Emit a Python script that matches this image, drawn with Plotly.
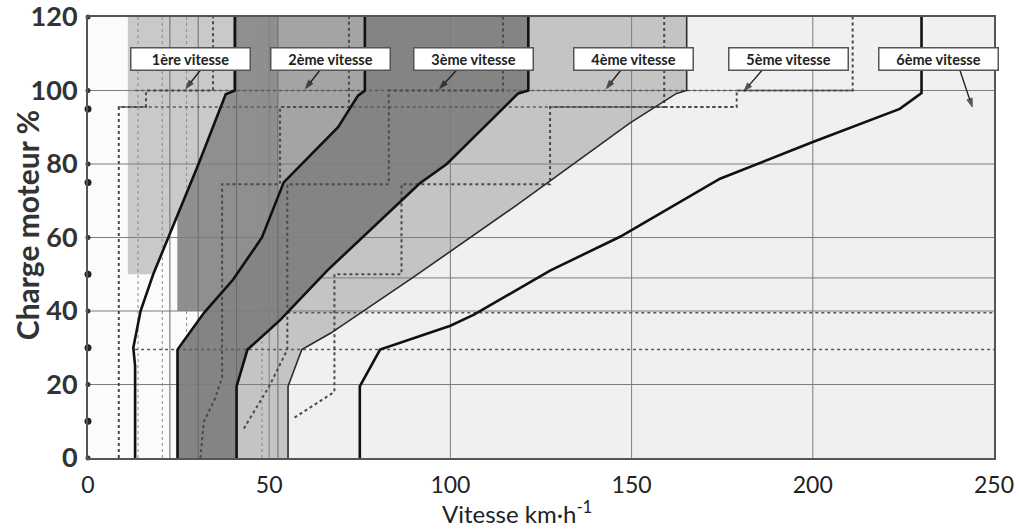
import numpy as np
import plotly.graph_objects as go

# ---------------- data (speed km/h , engine load %) ----------------
x_ticks = [0, 50, 100, 150, 200, 250]
y_ticks = [0, 20, 40, 60, 80, 100, 120]

# solid gear boundary curves
g1_x = [13, 13, 12.5, 14.5, 18, 30.5, 38, 40.5, 40.5]
g1_y = [0, 25, 30, 40, 50, 80, 99, 100, 120]
g2_x = [24.7, 24.7, 32, 40, 48, 54, 69, 74.5, 76.4, 76.4]
g2_y = [0, 29.5, 39.5, 48.5, 60, 75, 90, 98.6, 100, 120]
g3_x = [41, 41, 44, 53, 66, 91.5, 99, 115.5, 118.7, 121.5, 121.5]
g3_y = [0, 19.5, 29.5, 37.5, 51, 74.7, 80, 96, 99.2, 100, 120]
g4_x = [55.2, 55.2, 59, 67, 89.5, 118.3, 149.6, 162.4, 165.2, 165.2]
g4_y = [0, 19.5, 29.5, 34, 49, 68.8, 91.2, 99.2, 100, 120]
g6_x = [75, 75, 80.6, 100, 106.5, 127.5, 146.8, 174.4, 200, 224, 230, 230]
g6_y = [0, 19.5, 29.5, 36, 39, 51, 60.2, 76, 86, 95, 99.3, 120]

# dotted shift curves
d1_x = [8.5, 8.5, 16, 16, 34.5, 34.5]
d1_y = [0, 95.5, 95.5, 100, 100, 120]
d2_x = [31, 32, 35, 37, 37, 53, 53, 72, 72]
d2_y = [0, 10, 16, 22, 74.5, 74.5, 95.5, 95.5, 120]
d3_x = [43, 46, 50, 55, 55, 83, 83, 114.5, 114.5]
d3_y = [8, 13, 19.5, 29.5, 74.5, 74.5, 100, 100, 120]
d4_x = [57, 68, 68, 86.5, 86.5, 127.5, 127.5, 159, 159]
d4_y = [11, 18, 50, 50, 74.5, 74.5, 95.5, 95.5, 120]
d5_x = [159, 179, 179, 211, 211]
d5_y = [95.5, 95.5, 100, 100, 120]

# horizontal dotted reference lines: (y, x_start, x_end)
h_dot_y = [100, 95.5, 29.5, 39.5]
h_dot_x0 = [13, 8.5, 13, 55]
h_dot_x1 = [211, 179, 250, 250]
h_solid_y = [49]
h_solid_x0 = [60]

# vertical strips in the low-speed zone
v_solid_x = [22.6, 30.4, 41, 52.4]
v_dot_x = [13.8, 20.5, 27.2, 48]

# zone limits
zoneA_x0, zoneA_y0 = 11, 50       # 1st gear zone
zoneB_x0, zoneB_y0 = 24.7, 40     # 2nd gear zone
zoneB_split = 52.4

axis_marks_y = [10, 30, 50, 75, 95]

labels = ["1ère vitesse", "2ème vitesse", "3ème vitesse", "4ème vitesse", "5ème vitesse", "6ème vitesse"]
label_x = [28.4, 67, 106.4, 150.5, 193.3, 234.7]
label_y = [108.6] * 6
arrow_from_x = [31, 64, 101.7, 147, 186, 240.6]
arrow_from_y = [105.5] * 6
arrow_to_x = [27, 60, 97, 143, 181, 244]
arrow_to_y = [100.5, 100.5, 100.5, 100.5, 99.8, 95.5]

# ---------------- figure ----------------
fig = go.Figure()

def poly(xs, ys, color):
    fig.add_trace(go.Scatter(x=xs, y=ys, mode="lines", fill="toself", fillcolor=color,
                             line=dict(width=0), hoverinfo="skip", showlegend=False))

def left_of(cx, cy):
    return [0] + list(cx) + [0], [0] + list(cy) + [120]

# layered zones
poly(*left_of(g4_x, g4_y), "#c4c4c4")
poly(*left_of(g3_x, g3_y), "#848484")
poly(*left_of(g2_x, g2_y), "#fbfbfb")

g2x = np.array(g2_x); g2y = np.array(g2_y)
xb0 = float(np.interp(zoneB_y0, g2y, g2x))
m = g2y > zoneB_y0
poly([zoneB_x0, xb0] + list(g2x[m]) + [zoneB_x0],
     [zoneB_y0, zoneB_y0] + list(g2y[m]) + [120], "#a4a4a4")
ysplit = float(np.interp(zoneB_split, g2x[1:], g2y[1:]))
m2 = (g2y > zoneB_y0) & (g2x < zoneB_split)
poly([zoneB_x0, xb0] + list(g2x[m2]) + [zoneB_split, zoneB_split, zoneB_x0],
     [zoneB_y0, zoneB_y0] + list(g2y[m2]) + [ysplit, 120, 120], "#8f8f8f")

g1x = np.array(g1_x); g1y = np.array(g1_y)
xa0 = float(np.interp(zoneA_y0, g1y, g1x))
ma = g1y > zoneA_y0
poly([zoneA_x0, xa0] + list(g1x[ma]) + [zoneA_x0],
     [zoneA_y0, zoneA_y0] + list(g1y[ma]) + [120], "#c9c9c9")

# grid lines (drawn over fills)
gx, gy = [], []
for v in x_ticks[1:-1]:
    gx += [v, v, None]; gy += [0, 120, None]
for v in y_ticks[1:-1]:
    gx += [0, 250, None]; gy += [v, v, None]
for y0, x0 in zip(h_solid_y, h_solid_x0):
    gx += [x0, 250, None]; gy += [y0, y0, None]
fig.add_trace(go.Scatter(x=gx, y=gy, mode="lines", line=dict(color="#7d7d7d", width=1),
                         hoverinfo="skip", showlegend=False))

vx, vy = [], []
for v in v_solid_x:
    vx += [v, v, None]; vy += [0, 120, None]
fig.add_trace(go.Scatter(x=vx, y=vy, mode="lines", line=dict(color="#6a6a6a", width=1),
                         hoverinfo="skip", showlegend=False))
vx, vy = [], []
for v in v_dot_x:
    vx += [v, v, None]; vy += [0, 120, None]
fig.add_trace(go.Scatter(x=vx, y=vy, mode="lines", line=dict(color="#8a8a8a", width=1, dash="dot"),
                         hoverinfo="skip", showlegend=False))

# dotted horizontal references
hx, hy = [], []
for y0, x0, x1 in zip(h_dot_y, h_dot_x0, h_dot_x1):
    hx += [x0, x1, None]; hy += [y0, y0, None]
fig.add_trace(go.Scatter(x=hx, y=hy, mode="lines", line=dict(color="#5a5a5a", width=1.5, dash="dot"),
                         hoverinfo="skip", showlegend=False))

for dx, dy in [(d1_x, d1_y), (d2_x, d2_y), (d3_x, d3_y), (d4_x, d4_y), (d5_x, d5_y)]:
    fig.add_trace(go.Scatter(x=dx, y=dy, mode="lines", line=dict(color="#4a4a4a", width=2, dash="dot"),
                             hoverinfo="skip", showlegend=False))

# solid gear curves
for cx, cy, w, c in [(g1_x, g1_y, 2.6, "#111"), (g2_x, g2_y, 2.6, "#111"), (g3_x, g3_y, 2.6, "#111"),
                     (g4_x, g4_y, 1.6, "#2a2a2a"), (g6_x, g6_y, 2.6, "#111")]:
    fig.add_trace(go.Scatter(x=cx, y=cy, mode="lines", line=dict(color=c, width=w),
                             hoverinfo="skip", showlegend=False))

# markers on the load axis
fig.add_trace(go.Scatter(x=[0] * len(axis_marks_y), y=axis_marks_y, mode="markers",
                         marker=dict(color="#222", size=7), cliponaxis=False,
                         hoverinfo="skip", showlegend=False))
fig.add_trace(go.Scatter(x=[0] * len(y_ticks), y=y_ticks, mode="markers",
                         marker=dict(color="#333", size=5), cliponaxis=False,
                         hoverinfo="skip", showlegend=False))

# arrows from the gear labels
for fx, fy, tx, ty in zip(arrow_from_x, arrow_from_y, arrow_to_x, arrow_to_y):
    fig.add_trace(go.Scatter(x=[fx, tx], y=[fy, ty], mode="lines+markers",
                             line=dict(color="#222", width=1.4),
                             marker=dict(symbol="arrow", angleref="previous", size=[0, 9], color="#111"),
                             cliponaxis=False, hoverinfo="skip", showlegend=False))

# gear labels
for t, lx, ly in zip(labels, label_x, label_y):
    fig.add_annotation(x=lx, y=ly, text=t, showarrow=False, bgcolor="white",
                       bordercolor="#555", borderwidth=1.5, width=114, height=17, borderpad=2,
                       font=dict(family="Lato", size=14.5, color="#222", weight="bold"))

# axis titles
fig.add_annotation(xref="paper", yref="paper", x=-0.0673, y=0.528, xanchor="center", yanchor="middle",
                   text="Charge moteur %", textangle=-90, showarrow=False,
                   font=dict(family="Lato", size=30, color="#333", weight="bold"))
fig.add_annotation(xref="paper", yref="paper", x=0.4735, y=-0.1224, xanchor="center", yanchor="middle",
                   text="Vitesse km·h<sup>-1</sup>", showarrow=False,
                   font=dict(family="Lato", size=24, color="#222"))

fig.update_layout(
    width=1019, height=531,
    margin=dict(l=88, r=25, t=17, b=73, autoexpand=False),
    paper_bgcolor="white", plot_bgcolor="#f0f0f0",
    showlegend=False,
    xaxis=dict(range=[0, 250], tickvals=x_ticks, showgrid=False, zeroline=False,
               showline=True, linecolor="#555", linewidth=1.5, mirror=True, automargin=False,
               ticks="", ticklabelstandoff=6, ticklabeloverflow="allow",
               tickfont=dict(family="Lato", size=23, color="#222")),
    yaxis=dict(range=[0, 120], tickvals=y_ticks, showgrid=False, zeroline=False,
               showline=True, linecolor="#555", linewidth=2, mirror=True, automargin=False,
               ticks="", ticklabelstandoff=3, ticklabeloverflow="allow",
               tickfont=dict(family="Lato", size=27, color="#333", weight="bold")),
)

# remove the default page margin so the figure sits at the window's top-left corner
fig.write_html("out.html", config={"displayModeBar": False},
               post_script="document.body.style.margin='0px';")
